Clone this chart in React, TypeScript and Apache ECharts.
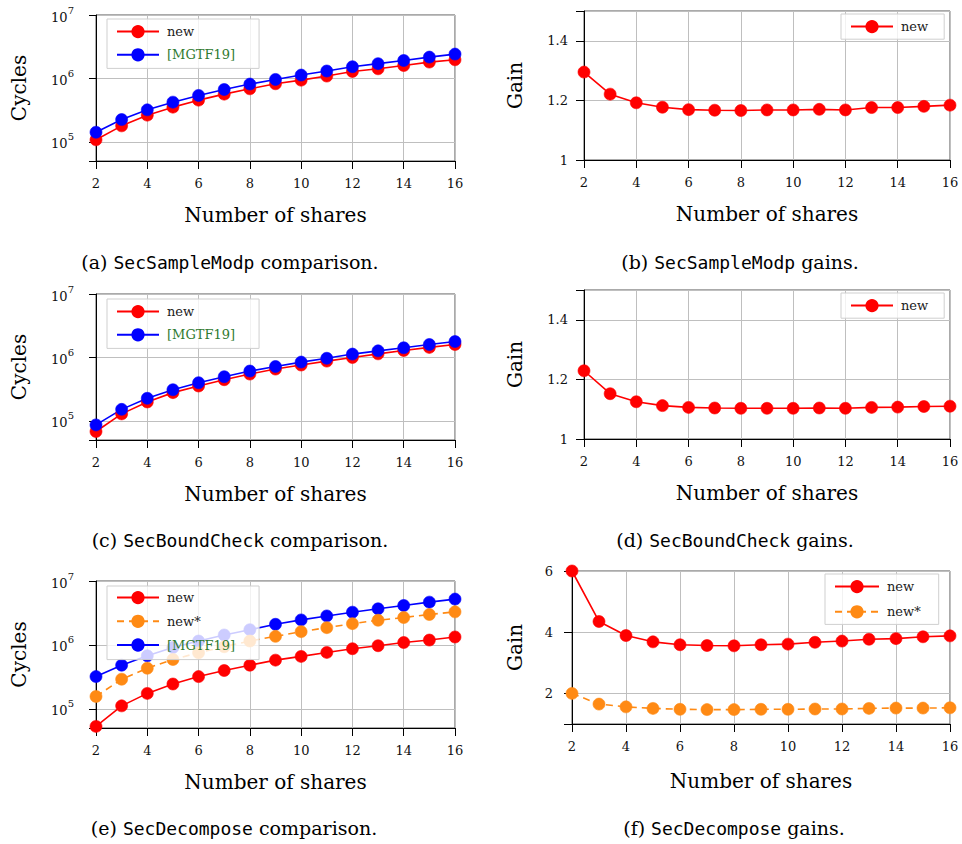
import React, { useEffect, useRef } from "react";
import * as echarts from "echarts";

const shares = [2, 3, 4, 5, 6, 7, 8, 9, 10, 11, 12, 13, 14, 15, 16];

// (a) SecSampleModp cycles
const sampleNew = [1.08e5, 1.79e5, 2.64e5, 3.53e5, 4.55e5, 5.66e5, 6.87e5, 8.25e5, 9.4e5, 1.09e6, 1.29e6, 1.42e6, 1.6e6, 1.81e6, 1.97e6];
const sampleRef = [1.42e5, 2.25e5, 3.2e5, 4.23e5, 5.4e5, 6.7e5, 8.15e5, 9.65e5, 1.13e6, 1.31e6, 1.53e6, 1.71e6, 1.92e6, 2.17e6, 2.42e6];
// (b) SecSampleModp gains
const sampleGain = [1.295, 1.221, 1.192, 1.177, 1.169, 1.167, 1.166, 1.168, 1.168, 1.17, 1.168, 1.176, 1.176, 1.18, 1.184];
// (c) SecBoundCheck cycles
const boundNew = [6.8e4, 1.29e5, 1.99e5, 2.79e5, 3.55e5, 4.46e5, 5.47e5, 6.56e5, 7.6e5, 8.76e5, 1.0e6, 1.14e6, 1.29e6, 1.44e6, 1.6e6];
const boundRef = [8.65e4, 1.52e5, 2.27e5, 3.1e5, 4.0e5, 4.97e5, 6.1e5, 7.2e5, 8.45e5, 9.7e5, 1.13e6, 1.27e6, 1.42e6, 1.6e6, 1.78e6];
// (d) SecBoundCheck gains
const boundGain = [1.229, 1.152, 1.125, 1.112, 1.106, 1.104, 1.103, 1.103, 1.103, 1.104, 1.103, 1.106, 1.107, 1.109, 1.11];
// (e) SecDecompose cycles
const decNew = [5.3e4, 1.11e5, 1.74e5, 2.44e5, 3.19e5, 3.97e5, 4.81e5, 5.77e5, 6.6e5, 7.62e5, 8.71e5, 9.7e5, 1.09e6, 1.19e6, 1.33e6];
const decNewStar = [1.56e5, 2.9e5, 4.31e5, 5.91e5, 7.53e5, 9.36e5, 1.15e6, 1.36e6, 1.61e6, 1.86e6, 2.15e6, 2.43e6, 2.68e6, 2.99e6, 3.29e6];
const decRef = [3.19e5, 4.81e5, 6.75e5, 9.1e5, 1.15e6, 1.43e6, 1.73e6, 2.1e6, 2.46e6, 2.84e6, 3.25e6, 3.67e6, 4.14e6, 4.67e6, 5.21e6];
// (f) SecDecompose gains
const decGainNew = [6.0, 4.35, 3.89, 3.685, 3.59, 3.565, 3.555, 3.59, 3.61, 3.67, 3.71, 3.77, 3.79, 3.85, 3.88];
const decGainStar = [2.0, 1.65, 1.56, 1.51, 1.48, 1.47, 1.47, 1.48, 1.48, 1.49, 1.49, 1.51, 1.52, 1.52, 1.53];

const captions = [
  { tag: "(a) ", name: "SecSampleModp", rest: " comparison." },
  { tag: "(b) ", name: "SecSampleModp", rest: " gains." },
  { tag: "(c) ", name: "SecBoundCheck", rest: " comparison." },
  { tag: "(d) ", name: "SecBoundCheck", rest: " gains." },
  { tag: "(e) ", name: "SecDecompose", rest: " comparison." },
  { tag: "(f) ", name: "SecDecompose", rest: " gains." },
];

const SERIF = "DejaVu Serif";
const MONO = "DejaVu Sans Mono";
const RED = "#ff0000";
const BLUE = "#0000ff";
const ORANGE = "#ff8a14";
const GREEN = "#2f7a2f";
const GRIDC = "#bfbfbf";

const grids = [
  { left: 96, top: 15, width: 359, height: 146 },
  { left: 584, top: 11, width: 366, height: 149 },
  { left: 96, top: 294, width: 359, height: 146 },
  { left: 584, top: 290, width: 366, height: 149 },
  { left: 96, top: 581, width: 359, height: 147 },
  { left: 572, top: 571, width: 378, height: 153 },
];

function pairs(vals: number[]) {
  return shares.map((s, i) => [s, vals[i]]);
}

function buildOption() {
  const xAxes = grids.map((g, i) => ({
    type: "value",
    gridIndex: i,
    min: 2,
    max: 16,
    interval: 2,
    name: "Number of shares",
    nameLocation: "middle",
    nameGap: i === 5 ? 47 : 44,
    nameTextStyle: { fontFamily: SERIF, fontSize: 20, color: "#000" },
    axisLine: { show: true, onZero: false, lineStyle: { color: "#000", width: 1 } },
    axisTick: { show: true, length: 8, lineStyle: { color: "#000" } },
    axisLabel: { margin: 16, fontFamily: SERIF, fontSize: 13, color: "#111" },
    splitLine: { show: true, lineStyle: { color: GRIDC, width: 1 } },
  }));

  const logLabel = {
    margin: 22,
    color: "#111",
    formatter: (v: number) => {
      const e = Math.log10(v);
      if (Math.abs(e - Math.round(e)) > 1e-6) return "";
      return "{b|10}{s|" + Math.round(e) + "}";
    },
    rich: {
      b: { fontFamily: SERIF, fontSize: 13, color: "#111", padding: [4, 0, 0, 0] },
      s: { fontFamily: SERIF, fontSize: 10, color: "#111", padding: [0, 0, 10, 0] },
    },
  };

  const logAxis = (i: number) => ({
    type: "log",
    logBase: 10,
    gridIndex: i,
    min: 5e4,
    max: 1e7,
    name: "Cycles",
    nameLocation: "middle",
    nameGap: 67,
    nameTextStyle: { fontFamily: SERIF, fontSize: 20, color: "#000" },
    axisLine: { show: true, lineStyle: { color: "#000", width: 1 } },
    axisTick: { show: true, length: 7, lineStyle: { color: "#000" } },
    axisLabel: logLabel,
    splitLine: { show: true, lineStyle: { color: GRIDC, width: 1 } },
  });

  const gainAxisSmall = (i: number) => ({
    type: "value",
    gridIndex: i,
    min: 1,
    max: 1.5,
    interval: 0.2,
    name: "Gain",
    nameLocation: "middle",
    nameGap: 59,
    nameTextStyle: { fontFamily: SERIF, fontSize: 20, color: "#000" },
    axisLine: { show: true, lineStyle: { color: "#000", width: 1 } },
    axisTick: { show: true, length: 8, lineStyle: { color: "#000" } },
    axisLabel: {
      margin: 16,
      fontFamily: SERIF,
      fontSize: 13,
      color: "#111",
      formatter: (v: number) => (Math.abs(v - 1.5) < 1e-9 ? "" : Math.abs(v - 1) < 1e-9 ? "1" : v.toFixed(1)),
    },
    splitLine: { show: true, lineStyle: { color: GRIDC, width: 1 } },
  });

  const gainAxisBig = (i: number) => ({
    type: "value",
    gridIndex: i,
    min: 1,
    max: 6,
    splitNumber: 3,
    name: "Gain",
    nameLocation: "middle",
    nameGap: 47,
    nameTextStyle: { fontFamily: SERIF, fontSize: 20, color: "#000" },
    axisLine: { show: true, lineStyle: { color: "#000", width: 1 } },
    axisTick: { show: true, length: 8, lineStyle: { color: "#000" } },
    axisLabel: {
      margin: 19,
      fontFamily: SERIF,
      fontSize: 13,
      color: "#111",
      formatter: (v: number) => (Math.abs(v - 1) < 1e-9 ? "" : String(v)),
    },
    splitLine: { show: true, lineStyle: { color: GRIDC, width: 1 } },
  });

  const yAxes = [logAxis(0), gainAxisSmall(1), logAxis(2), gainAxisSmall(3), logAxis(4), gainAxisBig(5)];

  const mk = (name: string, idx: number, vals: number[], color: string, dashed = false, z = 2) => ({
    type: "line",
    name,
    xAxisIndex: idx,
    yAxisIndex: idx,
    data: pairs(vals),
    symbol: "circle",
    symbolSize: 12,
    clip: false,
    z,
    lineStyle: { color, width: 1.6, type: dashed ? [7, 5] : "solid" },
    itemStyle: { color, borderColor: color, borderWidth: 0.6, opacity: 1 },
    emphasis: { disabled: true },
  });

  const series = [
    mk("new", 0, sampleNew, RED),
    mk("[MGTF19]", 0, sampleRef, BLUE),
    mk("new", 1, sampleGain, RED),
    mk("new", 2, boundNew, RED),
    mk("[MGTF19]", 2, boundRef, BLUE),
    mk("new", 3, boundGain, RED),
    mk("[MGTF19]", 4, decRef, BLUE),
    mk("new*", 4, decNewStar, ORANGE, true),
    mk("new", 4, decNew, RED),
    mk("new", 5, decGainNew, RED),
    mk("new*", 5, decGainStar, ORANGE, true),
  ];

  const legendBase = {
    orient: "vertical",
    itemHeight: 14,
    borderColor: "#cfcfcf",
    borderWidth: 1,
    borderRadius: 0,
    backgroundColor: "rgba(255,255,255,0.8)",
    selectedMode: false,
    textStyle: { fontFamily: SERIF, fontSize: 13, color: "#222", padding: [0, 0, 0, 3] },
  };

  const legends = [
    {
      ...legendBase,
      left: 107,
      top: 19,
      itemWidth: 42,
      itemGap: 10,
      padding: [6, 24, 7, 9],
      data: [{ name: "new" }, { name: "[MGTF19]", textStyle: { color: GREEN } }],
    },
    {
      ...legendBase,
      left: 841,
      top: 14,
      itemWidth: 42,
      itemGap: 10,
      padding: [6, 16, 6, 9],
      data: [{ name: "new" }],
    },
    {
      ...legendBase,
      left: 107,
      top: 299,
      itemWidth: 42,
      itemGap: 10,
      padding: [6, 24, 7, 9],
      data: [{ name: "new" }, { name: "[MGTF19]", textStyle: { color: GREEN } }],
    },
    {
      ...legendBase,
      left: 841,
      top: 293,
      itemWidth: 42,
      itemGap: 10,
      padding: [6, 16, 6, 9],
      data: [{ name: "new" }],
    },
    {
      ...legendBase,
      left: 107,
      top: 586,
      itemWidth: 42,
      itemGap: 10.5,
      padding: [5, 24, 8, 9],
      data: [{ name: "new" }, { name: "new*" }, { name: "[MGTF19]", textStyle: { color: GREEN } }],
    },
    {
      ...legendBase,
      left: 825,
      top: 574,
      itemWidth: 44,
      itemGap: 12,
      padding: [6, 18, 6, 9],
      data: [{ name: "new" }, { name: "new*" }],
    },
  ];

  const capPos = [
    [230, 262],
    [740, 262],
    [240, 540],
    [735, 540],
    [234, 828],
    [734, 828],
  ];

  const graphic = captions.map((c, i) => ({
    type: "text",
    x: capPos[i][0],
    y: capPos[i][1],
    style: {
      text: "{r|" + c.tag + "}{m|" + c.name + "}{r|" + c.rest + "}",
      align: "center",
      verticalAlign: "middle",
      rich: {
        r: { fontFamily: SERIF, fontSize: 19, fill: "#000" },
        m: { fontFamily: MONO, fontSize: 18, fill: "#000" },
      },
    },
  }));

  return {
    animation: false,
    backgroundColor: "#fff",
    grid: grids.map((g) => ({ ...g, show: true, borderColor: "#555", borderWidth: 1, containLabel: false })),
    xAxis: xAxes,
    yAxis: yAxes,
    legend: legends,
    series,
    graphic,
  };
}

export default function App() {
  const ref = useRef<HTMLDivElement>(null);
  useEffect(() => {
    document.body.style.margin = "0";
    if (!ref.current) return;
    const chart = echarts.init(ref.current, null, { renderer: "svg" });
    chart.setOption(buildOption() as any);
    return () => chart.dispose();
  }, []);
  return <div ref={ref} style={{ width: 962, height: 844 }} />;
}
